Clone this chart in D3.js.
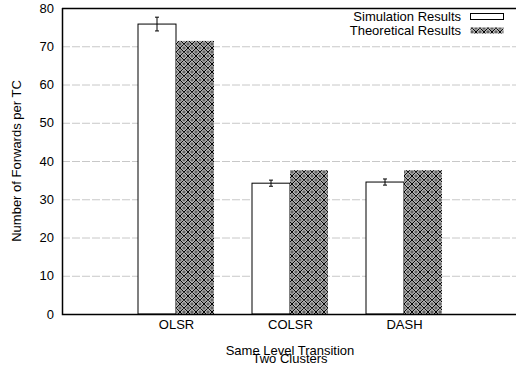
<!DOCTYPE html>
<html>
<head>
<meta charset="utf-8">
<script src="https://cdn.jsdelivr.net/npm/d3@7"></script>
<style>
  body { margin: 0; background: #fff; }
  text { font-family: "Liberation Sans", Arial, sans-serif; font-size: 13px; fill: #000; }
</style>
</head>
<body>
<svg id="chart" width="516" height="370"></svg>
<script>
const categories = ["OLSR", "COLSR", "DASH"];
const simulation = [75.8, 34.2, 34.5];
const simError = [1.8, 0.8, 0.8];
const theoretical = [71.4, 37.6, 37.6];
const yTicks = [0, 10, 20, 30, 40, 50, 60, 70, 80];
const seriesNames = ["Simulation Results", "Theoretical Results"];

const svg = d3.select("#chart");
const plotLeft = 62, plotRight = 518, plotTop = 8, plotBottom = 314;
const font = "Liberation Sans, Arial, sans-serif";

// hatch pattern like gnuplot's fill pattern
let defs = svg.append("defs");
let pat = defs.append("pattern")
    .attr("id", "hatch")
    .attr("patternUnits", "userSpaceOnUse")
    .attr("width", 8).attr("height", 8);
pat.append("rect").attr("width", 8).attr("height", 8).attr("fill", "#fff");
pat.append("path")
    .attr("d", "M0,4 L4,0 L8,4 L4,8 Z")
    .attr("fill", "none").attr("stroke", "#000").attr("stroke-width", 1.1);
[[4, 4], [0, 0], [8, 8], [8, 0], [0, 8]].forEach(p => {
    pat.append("circle").attr("cx", p[0]).attr("cy", p[1]).attr("r", 1.2)
        .attr("fill", "none").attr("stroke", "#000").attr("stroke-width", 0.9);
});

const x = d3.scaleLinear().domain([0, 4]).range([plotLeft, plotRight]);
const y = d3.scaleLinear().domain([0, 80]).range([plotBottom, plotTop]);
const barW = (x(1) - x(0)) / 3;

// grid lines
svg.append("g").selectAll("line")
    .data(yTicks.filter(d => d > 0 && d < 80))
    .enter().append("line")
    .attr("x1", plotLeft).attr("x2", plotRight)
    .attr("y1", d => y(d) + 0.5).attr("y2", d => y(d) + 0.5)
    .attr("stroke", "#c8c8c8").attr("stroke-width", 1)
    .attr("stroke-dasharray", "8,2");

// y axis
let yAxis = svg.append("g")
    .attr("transform", `translate(${plotLeft},0)`)
    .call(d3.axisLeft(y).tickValues(yTicks).tickSize(0).tickPadding(8));
yAxis.select(".domain").remove();
yAxis.selectAll("text").style("font-size", "13px").style("font-family", font);

// bars
categories.forEach((c, i) => {
    let cx = x(i + 1);
    svg.append("rect")
        .attr("x", cx - barW).attr("y", y(simulation[i]))
        .attr("width", barW).attr("height", y(0) - y(simulation[i]))
        .attr("fill", "#fff").attr("stroke", "#000").attr("stroke-width", 1);
    svg.append("rect")
        .attr("x", cx).attr("y", y(theoretical[i]))
        .attr("width", barW).attr("height", y(0) - y(theoretical[i]))
        .attr("fill", "url(#hatch)").attr("stroke", "none");
    let ex = cx - barW / 2;
    svg.append("line")
        .attr("x1", ex).attr("x2", ex)
        .attr("y1", y(simulation[i] - simError[i])).attr("y2", y(simulation[i] + simError[i]))
        .attr("stroke", "#000");
    [simulation[i] - simError[i], simulation[i] + simError[i]].forEach(v => {
        svg.append("line")
            .attr("x1", ex - 2).attr("x2", ex + 2)
            .attr("y1", y(v)).attr("y2", y(v))
            .attr("stroke", "#000");
    });
});

// x axis labels
let xAxis = svg.append("g")
    .attr("transform", `translate(0,${plotBottom})`)
    .call(d3.axisBottom(x).tickValues([1, 2, 3]).tickSize(0).tickPadding(6)
        .tickFormat(d => categories[d - 1]));
xAxis.select(".domain").remove();
xAxis.selectAll("text").style("font-size", "13px").style("font-family", font);

// frame
svg.append("path")
    .attr("d", `M${plotLeft + 0.5},${plotTop} L${plotLeft + 0.5},${plotBottom + 0.5} L${plotRight},${plotBottom + 0.5}`)
    .attr("fill", "none").attr("stroke", "#000").attr("stroke-width", 1.5);
svg.append("line")
    .attr("x1", plotLeft).attr("x2", plotRight)
    .attr("y1", plotTop + 0.5).attr("y2", plotTop + 0.5)
    .attr("stroke", "#000").attr("stroke-width", 1.5);

// axis titles (overlapping, as in the source figure)
svg.append("text").attr("x", 290).attr("y", 355).attr("text-anchor", "middle")
    .text("Same Level Transition");
svg.append("text").attr("x", 290).attr("y", 363).attr("text-anchor", "middle")
    .text("Two Clusters");
svg.append("text")
    .attr("transform", "translate(21,161) rotate(-90)")
    .attr("text-anchor", "middle")
    .text("Number of Forwards per TC");

// legend
let legend = svg.append("g");
seriesNames.forEach((s, i) => {
    let ly = 17 + i * 14;
    legend.append("text").attr("x", 461).attr("y", ly + 4).attr("text-anchor", "end").text(s);
    legend.append("rect")
        .attr("x", 470.5).attr("y", ly - 3.5).attr("width", 33).attr("height", 6)
        .attr("fill", i === 0 ? "#fff" : "url(#hatch)")
        .attr("stroke", i === 0 ? "#000" : "none");
});
</script>
</body>
</html>
